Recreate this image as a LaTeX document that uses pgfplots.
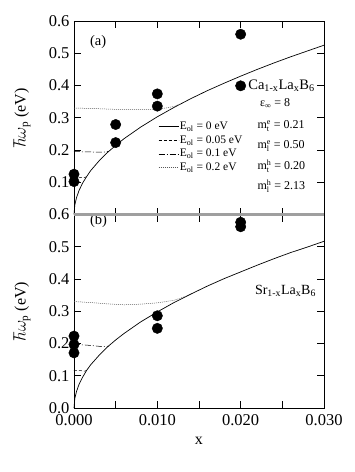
\documentclass[border=0pt]{standalone}
\usepackage{fontspec}
\setmainfont{Liberation Serif}
\setmathrm{Liberation Serif}
\usepackage{pgfplots}
\pgfplotsset{compat=1.18}

\pgfplotsset{
  panel/.style={
    width=250pt, height=193.5pt, scale only axis,
    xmin=0, xmax=0.03, ymin=0, ymax=0.6,
    xtick={0,0.005,0.01,0.015,0.02,0.025,0.03},
    ytick={0,0.1,0.2,0.3,0.4,0.5,0.6},
    scaled x ticks=false, scaled y ticks=false,
    tick align=inside, major tick length=7pt,
    tick style={black, line width=0.6pt},
    axis line style={line width=0.6pt},
    ticklabel style={font=\fontsize{16.5}{18}\selectfont},
    yticklabel style={xshift=-1pt},
    xticklabel style={yshift=-3pt},
    clip=false,
    every axis y label/.style={at={(axis description cs:-0.208,0.5)}, rotate=90, anchor=center,
      font=\fontsize{16}{18}\selectfont},
  },
  solid curve/.style={black, line width=0.7pt},
  e05/.style={black, line width=0.5pt, dash pattern=on 3pt off 2pt},
  e10/.style={black, line width=0.5pt, dash pattern=on 6pt off 2pt on 1pt off 2pt},
  e20/.style={black!65, line width=0.5pt, dash pattern=on 1pt off 1pt},
  pts/.style={only marks, mark=*, mark size=5.2pt, black},
}

\begin{document}
\begin{tikzpicture}
\useasboundingbox (-74pt,-64pt) rectangle (281pt,408pt);

% (b) Sr
\begin{axis}[panel, at={(0pt,0pt)}, anchor=south west,
  xticklabels={0.000,,0.010,,0.020,,0.030},
  yticklabels={0.0,0.1,0.2,0.3,0.4,0.5,0.6},
  ylabel={$\hbar\omega_{\mathrm{p}}$ (eV)},
  xlabel={x},
  xlabel style={at={(axis description cs:0.5,-0.171)}, anchor=center, font=\fontsize{16}{18}\selectfont},
]
\addplot[solid curve] coordinates {
 (0,0) (0.0001,0.030) (0.0003,0.051) (0.0006,0.073) (0.001,0.094) (0.0015,0.116)
 (0.002,0.134) (0.003,0.163) (0.004,0.189) (0.005,0.211) (0.006,0.231) (0.008,0.267)
 (0.010,0.298) (0.012,0.327) (0.014,0.353) (0.016,0.378) (0.018,0.401) (0.020,0.422)
 (0.022,0.443) (0.024,0.463) (0.026,0.482) (0.028,0.499) (0.030,0.517)};
\addplot[e05] coordinates {(0,0.116) (0.0008,0.116) (0.0013,0.114) (0.0016,0.118)};
\addplot[e10] coordinates {(0,0.198) (0.002,0.194) (0.0035,0.190) (0.0042,0.192)};
\addplot[e20] coordinates {(0,0.330) (0.002,0.327) (0.004,0.323) (0.006,0.320) (0.008,0.322)
 (0.010,0.326) (0.012,0.334) (0.0135,0.347)};
\addplot[pts] coordinates {(0,0.223) (0,0.197) (0,0.171) (0.010,0.286) (0.010,0.247)
 (0.020,0.576) (0.020,0.562)};
\node[anchor=west, font=\fontsize{14.5}{16}\selectfont] at (axis cs:0.0015,0.58) {(b)};
\node[anchor=west, font=\fontsize{14}{16}\selectfont] at (axis cs:0.0213,0.363)
 {Sr\textsubscript{1-x}La\textsubscript{x}B\textsubscript{6}};
\end{axis}

% (a) Ca
\begin{axis}[panel, at={(0pt,193.5pt)}, anchor=south west,
  xticklabels={},
  yticklabels={,0.1,0.2,0.3,0.4,0.5,0.6},
  ylabel={$\hbar\omega_{\mathrm{p}}$ (eV)},
  legend style={draw=none, fill=none, at={(rel axis cs:0.336,0.485)}, anchor=north west,
    font=\fontsize{11.5}{13}\selectfont, inner sep=0pt, row sep=2.6pt,
    nodes={inner sep=1pt}},
  legend cell align=left,
  legend image code/.code={\draw[#1] (0pt,0pt) -- (20pt,0pt);},
]
\addplot[solid curve] coordinates {
 (0,0) (0.0001,0.030) (0.0003,0.052) (0.0006,0.074) (0.001,0.096) (0.0015,0.117)
 (0.002,0.136) (0.003,0.166) (0.004,0.192) (0.005,0.214) (0.006,0.235) (0.008,0.271)
 (0.010,0.303) (0.012,0.332) (0.014,0.359) (0.016,0.384) (0.018,0.407) (0.020,0.429)
 (0.022,0.450) (0.024,0.470) (0.026,0.489) (0.028,0.507) (0.030,0.525)};
\addlegendentry{E\textsubscript{ol} = 0 eV}
\addplot[e05] coordinates {(0,0.115) (0.0007,0.115) (0.0012,0.114) (0.0015,0.117)};
\addlegendentry{E\textsubscript{ol} = 0.05 eV}
\addplot[e10] coordinates {(0,0.195) (0.002,0.194) (0.0035,0.193) (0.0042,0.196)};
\addlegendentry{E\textsubscript{ol} = 0.1 eV}
\addplot[e20] coordinates {(0,0.330) (0.002,0.329) (0.004,0.327) (0.006,0.325) (0.008,0.325)
 (0.010,0.327) (0.011,0.330) (0.012,0.335) (0.0128,0.343)};
\addlegendentry{E\textsubscript{ol} = 0.2 eV}
\addplot[pts, forget plot] coordinates {(0,0.125) (0,0.102) (0.005,0.279) (0.005,0.223)
 (0.010,0.374) (0.010,0.336) (0.020,0.559) (0.020,0.399)};
\node[anchor=west, font=\fontsize{14.5}{16}\selectfont] at (axis cs:0.0015,0.535) {(a)};
\node[anchor=west, font=\fontsize{14.5}{16}\selectfont] at (axis cs:0.0205,0.398)
 {Ca\textsubscript{1-x}La\textsubscript{x}B\textsubscript{6}};
\node[anchor=west, font=\fontsize{12}{14}\selectfont] at (axis cs:0.0219,0.343)
 {ε\textsubscript{∞} = 8};
\node[anchor=west, font=\fontsize{12}{14}\selectfont] at (axis cs:0.0216,0.274)
 {$\mathrm{m}^{\mathrm{e}}_{\mathrm{t}}$ = 0.21};
\node[anchor=west, font=\fontsize{12}{14}\selectfont] at (axis cs:0.0216,0.212)
 {$\mathrm{m}^{\mathrm{e}}_{\mathrm{l}}$ = 0.50};
\node[anchor=west, font=\fontsize{12}{14}\selectfont] at (axis cs:0.0216,0.150)
 {$\mathrm{m}^{\mathrm{h}}_{\mathrm{t}}$ = 0.20};
\node[anchor=west, font=\fontsize{12}{14}\selectfont] at (axis cs:0.0216,0.088)
 {$\mathrm{m}^{\mathrm{h}}_{\mathrm{l}}$ = 2.13};
\end{axis}

\draw[gray!75, line width=2.2pt] (0pt,193.5pt) -- (250pt,193.5pt);
\end{tikzpicture}
\end{document}
